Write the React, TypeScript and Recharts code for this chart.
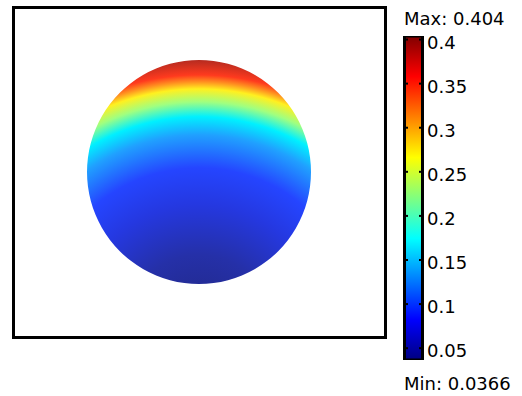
import React from 'react';
import { PieChart, Pie, Cell, BarChart, Bar, XAxis, YAxis } from 'recharts';

// field plot: one disc, coloured by value
const fieldData = [{ name: 'surface', value: 1 }];

// colour scale
const minValue = 0.0366;
const maxValue = 0.404;
const scaleTicks = [0.05, 0.1, 0.15, 0.2, 0.25, 0.3, 0.35, 0.4];
const scaleData = [{ name: 'scale', range: [minValue, maxValue] }];

// jet-like colormap used by the colour bar (offset from bottom)
const jetStops: [number, string][] = [
  [0, '#000080'],
  [0.125, '#0000ff'],
  [0.375, '#00ffff'],
  [0.625, '#ffff00'],
  [0.875, '#ff0000'],
  [1, '#800000'],
];

// colours sampled on the disc, radial from a point below it
const discStops: [number, string][] = [
  [0.167, '#232c98'],
  [0.273, '#2530a8'],
  [0.455, '#2538e0'],
  [0.589, '#2545ff'],
  [0.709, '#20a0ff'],
  [0.775, '#00f0ff'],
  [0.829, '#a0ff80'],
  [0.876, '#fff020'],
  [0.902, '#ff9020'],
  [0.927, '#ff3a1e'],
  [0.985, '#b02a20'],
];

const font = '"DejaVu Sans", Verdana, sans-serif';

const ScaleTick = (props: any) => {
  const { y, payload } = props;
  return (
    <g>
      <line x1={4} x2={8} y1={y} y2={y} stroke="#000" strokeWidth={2} />
      <line x1={19} x2={23} y1={y} y2={y} stroke="#000" strokeWidth={2} />
      <text x={27} y={y + 9} fontFamily={font} fontSize={18} fill="#000">
        {String(payload.value)}
      </text>
    </g>
  );
};

const App: React.FC = () => {
  return (
    <div style={{ position: 'absolute', left: 0, top: 0, width: 522, height: 396, background: '#fff' }}>
      <div
        style={{
          position: 'absolute',
          left: 12,
          top: 6,
          width: 375,
          height: 333,
          border: '3px solid #000',
          boxSizing: 'border-box',
        }}
      />
      <div style={{ position: 'absolute', left: 0, top: 0 }}>
        <PieChart width={400} height={396} margin={{ top: 0, right: 0, bottom: 0, left: 0 }}>
          <defs>
            <radialGradient id="discFill" cx="0.5" cy="1.205" r="1.228" fx="0.5" fy="1.205">
              {discStops.map(([o, c]) => (
                <stop key={o} offset={o} stopColor={c} />
              ))}
            </radialGradient>
          </defs>
          <Pie
            data={fieldData}
            dataKey="value"
            cx={199}
            cy={172}
            innerRadius={0}
            outerRadius={112}
            startAngle={90}
            endAngle={450}
            stroke="none"
            isAnimationActive={false}
          >
            {fieldData.map((d) => (
              <Cell key={d.name} fill="url(#discFill)" />
            ))}
          </Pie>
        </PieChart>
      </div>
      <div style={{ position: 'absolute', left: 400, top: 0 }}>
        <BarChart
          width={122}
          height={396}
          data={scaleData}
          margin={{ top: 36, right: 98.5, bottom: 36, left: 3.5 }}
          barCategoryGap={0}
        >
          <defs>
            <linearGradient id="jetFill" x1="0" y1="1" x2="0" y2="0">
              {jetStops.map(([o, c]) => (
                <stop key={o} offset={o} stopColor={c} />
              ))}
            </linearGradient>
          </defs>
          <XAxis dataKey="name" hide />
          <YAxis
            orientation="right"
            type="number"
            domain={[minValue, maxValue]}
            ticks={scaleTicks}
            allowDataOverflow
            axisLine={false}
            tickLine={false}
            width={0.01}
            tick={<ScaleTick />}
          />
          <Bar
            dataKey="range"
            barSize={20}
            fill="url(#jetFill)"
            stroke="#000"
            strokeWidth={3}
            isAnimationActive={false}
          />
        </BarChart>
      </div>
      <div style={{ position: 'absolute', left: 404, top: 10, fontFamily: font, fontSize: 18, lineHeight: '18px', whiteSpace: 'nowrap' }}>
        Max: {maxValue}
      </div>
      <div style={{ position: 'absolute', left: 404, top: 375, fontFamily: font, fontSize: 18, lineHeight: '18px', whiteSpace: 'nowrap' }}>
        Min: {minValue}
      </div>
    </div>
  );
};

export default App;
